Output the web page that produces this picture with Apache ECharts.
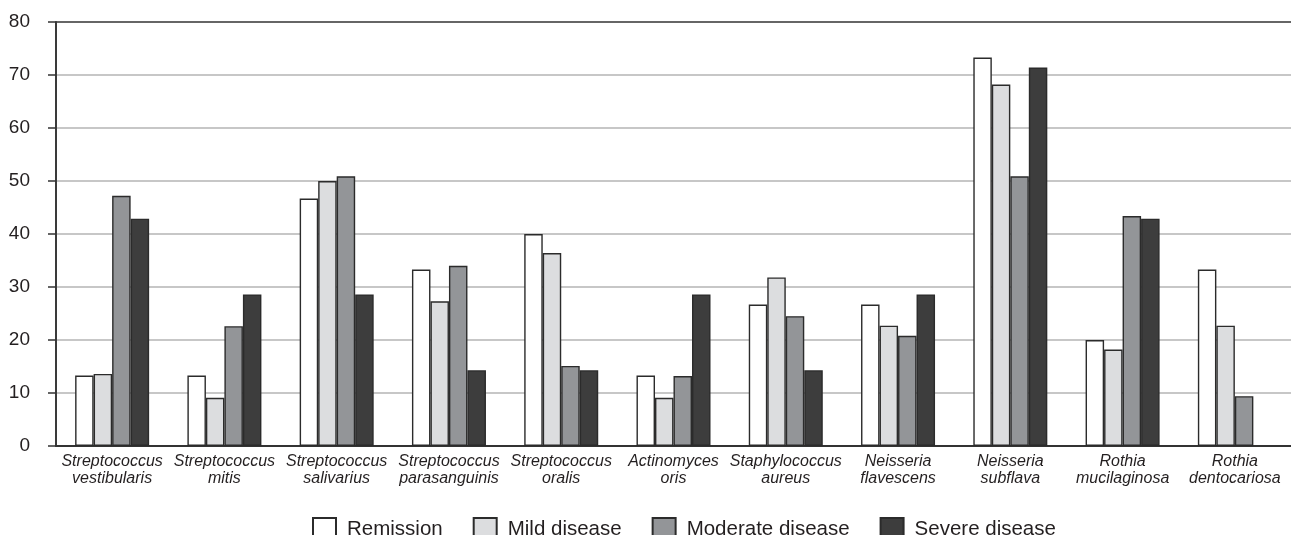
<!DOCTYPE html>
<html>
<head>
<meta charset="utf-8">
<script src="https://cdn.jsdelivr.net/npm/echarts@6/dist/echarts.min.js"></script>
<style>
  html, body { margin: 0; padding: 0; background: #fff; }
  #chart { width: 1291px; height: 535px; }
</style>
</head>
<body>
<div id="chart"></div>
<script>
const categories = [
  'Streptococcus\nvestibularis',
  'Streptococcus\nmitis',
  'Streptococcus\nsalivarius',
  'Streptococcus\nparasanguinis',
  'Streptococcus\noralis',
  'Actinomyces\noris',
  'Staphylococcus\naureus',
  'Neisseria\nflavescens',
  'Neisseria\nsubflava',
  'Rothia\nmucilaginosa',
  'Rothia\ndentocariosa'
];
const seriesNames = ['Remission', 'Mild disease', 'Moderate disease', 'Severe disease'];
const remission = [13.3, 13.3, 46.7, 33.3, 40.0, 13.3, 26.7, 26.7, 73.3, 20.0, 33.3];
const mild      = [13.6, 9.1, 50.0, 27.3, 36.4, 9.1, 31.8, 22.7, 68.2, 18.2, 22.7];
const moderate  = [47.2, 22.6, 50.9, 34.0, 15.1, 13.2, 24.5, 20.8, 50.9, 43.4, 9.4];
const severe    = [42.9, 28.6, 28.6, 14.3, 14.3, 28.6, 14.3, 28.6, 71.4, 42.9, null];
const yTicks = [0, 10, 20, 30, 40, 50, 60, 70, 80];

const fills = ['#ffffff', '#dcdddf', '#939598', '#3d3d3d'];
const values = [remission, mild, moderate, severe];
const font = '"Liberation Sans", Arial, Helvetica, sans-serif';

const chart = echarts.init(document.getElementById('chart'), null, { renderer: 'canvas' });

const gridColors = yTicks.map((t, i) => i === yTicks.length - 1 ? '#333333' : '#b4b4b4');

chart.setOption({
  animation: false,
  backgroundColor: '#ffffff',
  textStyle: { fontFamily: font },
  grid: { left: 56, right: 0, top: 22, bottom: 89, containLabel: false },
  legend: {
    left: 307,
    top: 512,
    icon: 'rect',
    itemWidth: 23,
    itemHeight: 22,
    itemGap: 30,
    data: seriesNames,
    textStyle: { fontSize: 20.5, color: '#231f20', fontFamily: font, padding: [0, 0, 0, 6] }
  },
  xAxis: {
    type: 'category',
    data: categories,
    axisLine: { show: true, lineStyle: { color: '#333333', width: 2 } },
    axisTick: { show: false },
    axisLabel: {
      interval: 0,
      margin: 7,
      fontSize: 16,
      lineHeight: 17,
      fontStyle: 'italic',
      color: '#231f20',
      fontFamily: font
    }
  },
  yAxis: {
    type: 'value',
    min: 0,
    max: 80,
    interval: 10,
    axisLine: { show: true, lineStyle: { color: '#3a3a3a', width: 2 } },
    axisTick: { show: true, length: 8, lineStyle: { color: '#333333', width: 1.5 } },
    axisLabel: { fontSize: 19, margin: 26, color: '#231f20', fontFamily: font },
    splitLine: { show: true, lineStyle: { color: gridColors, width: 1.5 } }
  },
  series: seriesNames.map((name, i) => ({
    name: name,
    type: 'bar',
    data: values[i],
    barWidth: 18.5,
    barGap: '0%',
    itemStyle: { color: fills[i], borderColor: '#2b2b2b', borderWidth: 1.4 }
  }))
});
</script>
</body>
</html>
